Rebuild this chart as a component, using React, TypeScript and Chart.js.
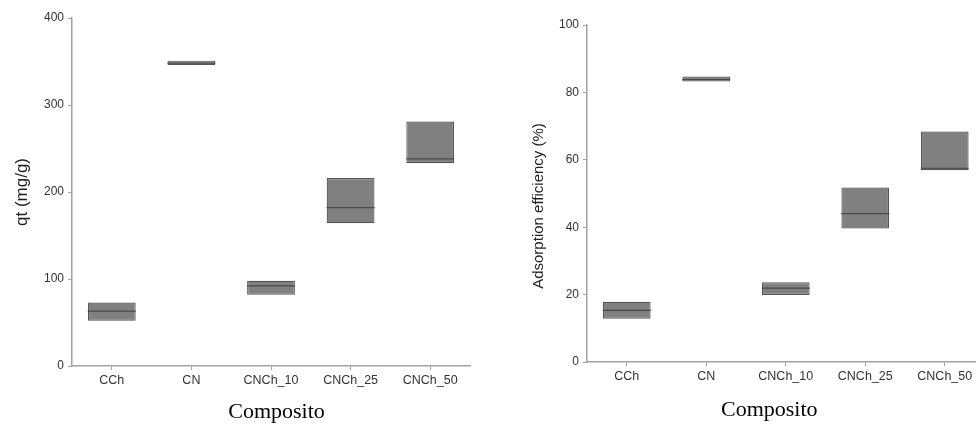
import React, { useEffect, useRef } from "react";
import { Chart, registerables } from "chart.js";

Chart.register(...registerables);

const categories = ["CCh", "CN", "CNCh_10", "CNCh_25", "CNCh_50"];

const qtQ1 = [52, 346, 82, 164, 233];
const qtQ3 = [73, 351, 98, 216, 281];
const qtMedian = [63, 348, 92, 182, 238];

const effQ1 = [12.8, 83.2, 19.9, 39.6, 56.9];
const effQ3 = [17.9, 84.7, 23.7, 51.8, 68.4];
const effMedian = [15.3, 83.8, 21.9, 44.0, 57.5];

const qtTicks = { min: 0, max: 400, step: 100 };
const effTicks = { min: 0, max: 100, step: 20 };

type Cfg = {
  q1: number[];
  q3: number[];
  med: number[];
  ticks: { min: number; max: number; step: number };
  yTitle: string;
  yTitleSize: number;
  yTitlePad: number;
  xTitle: string;
  yWidth: number;
  xHeight: number;
  padTop: number;
  padRight: number;
  xTitlePad: number;
  medRadius: number;
};

function BoxChart({ cfg, style }: { cfg: Cfg; style: React.CSSProperties }) {
  const ref = useRef<HTMLCanvasElement | null>(null);
  useEffect(() => {
    if (!ref.current) return;
    const axisColor = "#a3a3a3";
    const chart = new Chart(ref.current, {
      type: "bar",
      data: {
        labels: categories,
        datasets: [
          {
            type: "bar",
            data: categories.map((_, i) => [cfg.q1[i], cfg.q3[i]]) as any,
            backgroundColor: "#808080",
            borderColor: "#555555",
            borderWidth: 1.2,
            borderSkipped: false,
            barPercentage: 0.6,
            categoryPercentage: 1,
            order: 2,
          },
          {
            type: "line",
            data: cfg.med,
            showLine: false,
            pointStyle: "line",
            pointRadius: cfg.medRadius,
            pointBorderColor: "#484848",
            pointBorderWidth: 1.2,
            borderColor: "#484848",
            order: 1,
          } as any,
        ],
      },
      options: {
        animation: false,
        responsive: false,
        maintainAspectRatio: false,
        layout: { autoPadding: false, padding: { top: cfg.padTop, right: cfg.padRight, left: 0, bottom: 0 } },
        plugins: { legend: { display: false }, tooltip: { enabled: false } },
        scales: {
          x: {
            offset: true,
            grid: { offset: false, drawOnChartArea: false, drawTicks: true, tickLength: 4, color: axisColor },
            border: { color: axisColor, width: 1.5 },
            ticks: { color: "#333", font: { family: "Liberation Sans", size: 12.5 }, padding: 3, maxRotation: 0 },
            title: {
              display: true,
              text: cfg.xTitle,
              color: "#000",
              font: { family: "Liberation Serif", size: 22 },
              padding: { top: 0, bottom: cfg.xTitlePad },
            },
            afterFit: (s: any) => {
              s.height = cfg.xHeight;
              s.paddingLeft = 0;
              s.paddingRight = 0;
            },
          },
          y: {
            min: cfg.ticks.min,
            max: cfg.ticks.max,
            grid: { drawOnChartArea: false, drawTicks: true, tickLength: 4, color: axisColor },
            border: { color: axisColor, width: 1.5 },
            ticks: { stepSize: cfg.ticks.step, color: "#333", font: { family: "Liberation Sans", size: 12 }, padding: 4 },
            title: {
              display: true,
              text: cfg.yTitle,
              color: "#222",
              font: { family: "Liberation Sans", size: cfg.yTitleSize },
              padding: { top: cfg.yTitlePad, bottom: 0 },
            },
            afterFit: (s: any) => {
              s.width = cfg.yWidth;
              s.paddingTop = 0;
              s.paddingBottom = 0;
            },
          },
        },
      },
    });
    return () => chart.destroy();
  }, []);
  return <canvas ref={ref} width={style.width as number} height={style.height as number} style={style} />;
}

export default function App() {
  const left: Cfg = {
    q1: qtQ1,
    q3: qtQ3,
    med: qtMedian,
    ticks: qtTicks,
    yTitle: "qt (mg/g)",
    yTitleSize: 17,
    yTitlePad: 12,
    xTitle: "  Composito",
    yWidth: 72,
    xHeight: 59,
    padTop: 18,
    padRight: 18,
    xTitlePad: 0,
    medRadius: 24,
  };
  const right: Cfg = {
    q1: effQ1,
    q3: effQ3,
    med: effMedian,
    ticks: effTicks,
    yTitle: "Adsorption efficiency (%)      ",
    yTitleSize: 15,
    yTitlePad: 42,
    xTitle: "Composito      ",
    yWidth: 99,
    xHeight: 63,
    padTop: 25,
    padRight: 13.5,
    xTitlePad: 2,
    medRadius: 24,
  };
  return (
    <div style={{ position: "fixed", left: 0, top: 0, width: 976, height: 425, overflow: "hidden", background: "#fff" }}>
      <BoxChart cfg={left} style={{ position: "absolute", left: 0, top: 0, width: 488, height: 425 }} />
      <BoxChart cfg={right} style={{ position: "absolute", left: 488, top: 0, width: 510, height: 425 }} />
    </div>
  );
}
